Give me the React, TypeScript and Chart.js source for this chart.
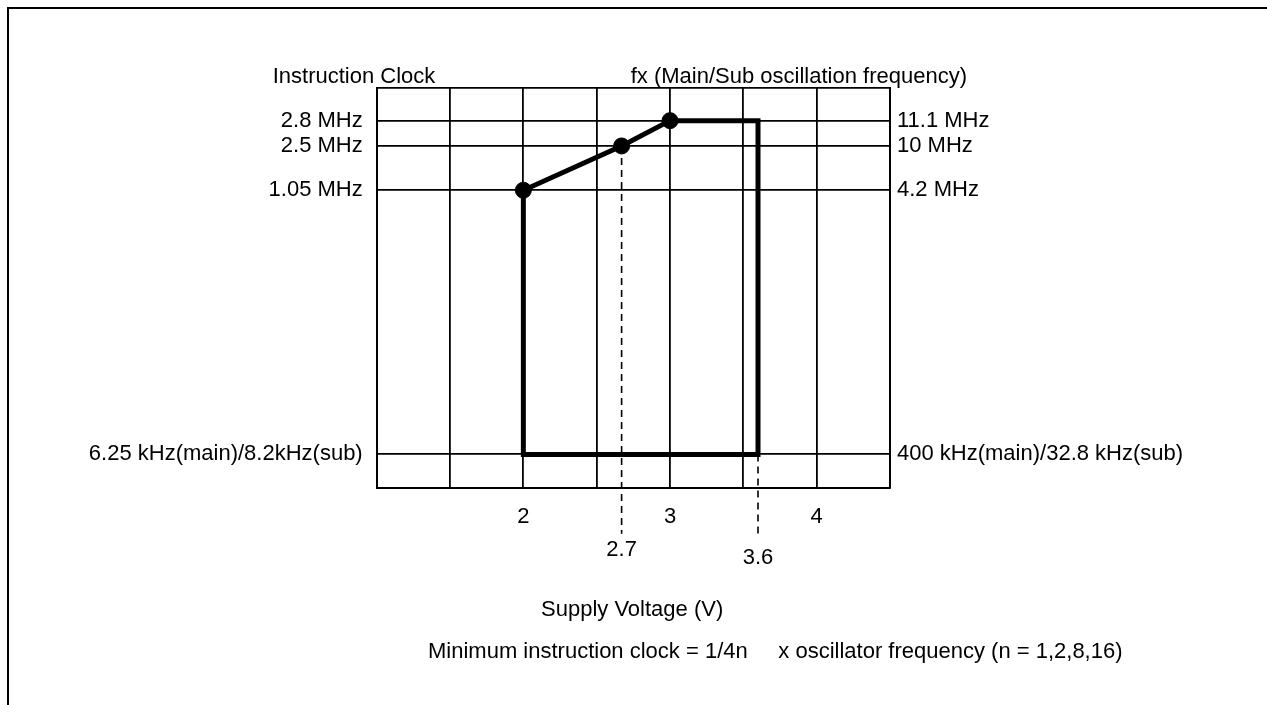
import React, { useEffect, useRef } from "react";
import { Chart, registerables } from "chart.js";

Chart.register(...registerables);

// ---- data ----
const xTicks = [1, 1.5, 2, 2.5, 3, 3.5, 4, 4.5];
const xTickLabels = ["", "", "2", "", "3", "", "4", ""];
const yLevels = [0, 1, 8.93, 10.26, 11.02, 12];
const leftLabels = ["", "6.25 kHz(main)/8.2kHz(sub)", "1.05 MHz", "2.5 MHz", "2.8 MHz", ""];
const rightLabels = ["", "400 kHz(main)/32.8 kHz(sub)", "4.2 MHz", "10 MHz", "11.1 MHz", ""];
const regionX = [2, 2, 2.67, 3, 3.6, 3.6, 2];
const regionY = [1, 8.93, 10.26, 11.02, 11.02, 1, 1];
const markerFlags = [0, 1, 1, 1, 0, 0, 0];
const dash27X = [2.67, 2.67];
const dash27Y = [10.26, -1.38];
const dash36X = [3.6, 3.6];
const dash36Y = [1, -1.38];
const markerValues = [2.67, 3.6];
const markerTexts = ["2.7", "3.6"];
const leftTitle = "Instruction Clock";
const rightTitle = "fx (Main/Sub oscillation frequency)";
const xTitle = "Supply Voltage (V)";
const footNote = "Minimum instruction clock = 1/4n     x oscillator frequency (n = 1,2,8,16)";

const FONT_FAMILY = '"Liberation Sans", Arial, Helvetica, sans-serif';
const FONT = "22px " + FONT_FAMILY;

const toPoints = (xs: number[], ys: number[]) => xs.map((x, i) => ({ x, y: ys[i] }));

const textPlugin = {
  id: "extraTexts",
  beforeDraw(chart: any) {
    const ctx = chart.ctx;
    ctx.save();
    ctx.fillStyle = "#000";
    ctx.fillRect(7, 7, 2, 705);
    ctx.fillRect(7, 7, 1267, 2);
    ctx.restore();
  },
  afterDraw(chart: any) {
    const ctx = chart.ctx;
    const xs = chart.scales.x;
    const area = chart.chartArea;
    ctx.save();
    ctx.fillStyle = "#000";
    ctx.font = FONT;
    ctx.textBaseline = "alphabetic";
    ctx.textAlign = "left";
    ctx.fillText(leftTitle, 272.7, area.top - 5);
    ctx.fillText(rightTitle, 630.7, area.top - 5);
    ctx.fillText(xTitle, 541, area.bottom + 128);
    ctx.fillText(footNote, 428, area.bottom + 170);
    ctx.textAlign = "center";
    ctx.textBaseline = "middle";
    const offs = [62, 70];
    markerValues.forEach((v, i) => {
      ctx.fillText(markerTexts[i], xs.getPixelForValue(v), area.bottom + offs[i]);
    });
    ctx.restore();
  },
};

export default function App() {
  const ref = useRef<HTMLCanvasElement | null>(null);

  useEffect(() => {
    if (!ref.current) return;
    const yTicksBuild = (scale: any) => {
      scale.ticks = yLevels.map((v) => ({ value: v }));
    };
    const chart = new Chart(ref.current, {
      type: "scatter",
      data: {
        datasets: [
          {
            data: toPoints(regionX, regionY),
            showLine: true,
            borderColor: "#000",
            backgroundColor: "#000",
            borderWidth: 5,
            borderJoinStyle: "miter",
            borderCapStyle: "square",
            pointRadius: markerFlags.map((f) => (f ? 8 : 0)),
            pointBorderWidth: 1,
            pointBackgroundColor: "#000",
            pointBorderColor: "#000",
            tension: 0,
          } as any,
          {
            data: toPoints(dash27X, dash27Y),
            showLine: true,
            borderColor: "#000",
            borderWidth: 1.6,
            borderDash: [7, 5],
            pointRadius: 0,
            clip: false,
          } as any,
          {
            data: toPoints(dash36X, dash36Y),
            showLine: true,
            borderColor: "#000",
            borderWidth: 1.6,
            borderDash: [7, 5],
            pointRadius: 0,
            clip: false,
          } as any,
        ],
      },
      options: {
        animation: false,
        responsive: false,
        devicePixelRatio: 1,
        layout: { padding: { left: 0, right: 0, top: 88, bottom: 705 - 487.7 - 50 } },
        plugins: { legend: { display: false }, tooltip: { enabled: false }, title: { display: false } },
        scales: {
          x: {
            type: "linear",
            min: 1,
            max: 4.5,
            afterBuildTicks: (scale: any) => {
              scale.ticks = xTicks.map((v) => ({ value: v }));
            },
            afterFit: (scale: any) => {
              scale.height = 50;
            },
            grid: { color: "#000", lineWidth: 1.8, drawTicks: false },
            border: { color: "#000", width: 2 },
            ticks: {
              color: "#000",
              font: { family: FONT_FAMILY, size: 22 },
              padding: 16,
              maxRotation: 0,
              autoSkip: false,
              callback: (_v: any, i: number) => xTickLabels[i],
            },
          },
          y: {
            type: "linear",
            position: "left",
            min: 0,
            max: 12,
            afterBuildTicks: yTicksBuild,
            afterFit: (scale: any) => {
              scale.width = 376.7;
            },
            grid: { color: "#000", lineWidth: 1.8, drawTicks: false },
            border: { color: "#000", width: 2 },
            ticks: {
              color: "#000",
              font: { family: FONT_FAMILY, size: 22 },
              padding: 14,
              autoSkip: false,
              callback: (_v: any, i: number) => leftLabels[i],
            },
          },
          y2: {
            type: "linear",
            position: "right",
            min: 0,
            max: 12,
            afterBuildTicks: yTicksBuild,
            afterFit: (scale: any) => {
              scale.width = 1267 - 890;
            },
            grid: { display: false, drawTicks: false },
            border: { color: "#000", width: 2 },
            ticks: {
              color: "#000",
              font: { family: FONT_FAMILY, size: 22 },
              padding: 7,
              autoSkip: false,
              callback: (_v: any, i: number) => rightLabels[i],
            },
          },
        },
      } as any,
      plugins: [textPlugin],
    });
    return () => chart.destroy();
  }, []);

  return (
    <div style={{ position: "fixed", left: 0, top: 0, width: 1267, height: 705, background: "#fff" }}>
      <canvas ref={ref} width={1267} height={705} style={{ display: "block", width: 1267, height: 705 }} />
    </div>
  );
}
